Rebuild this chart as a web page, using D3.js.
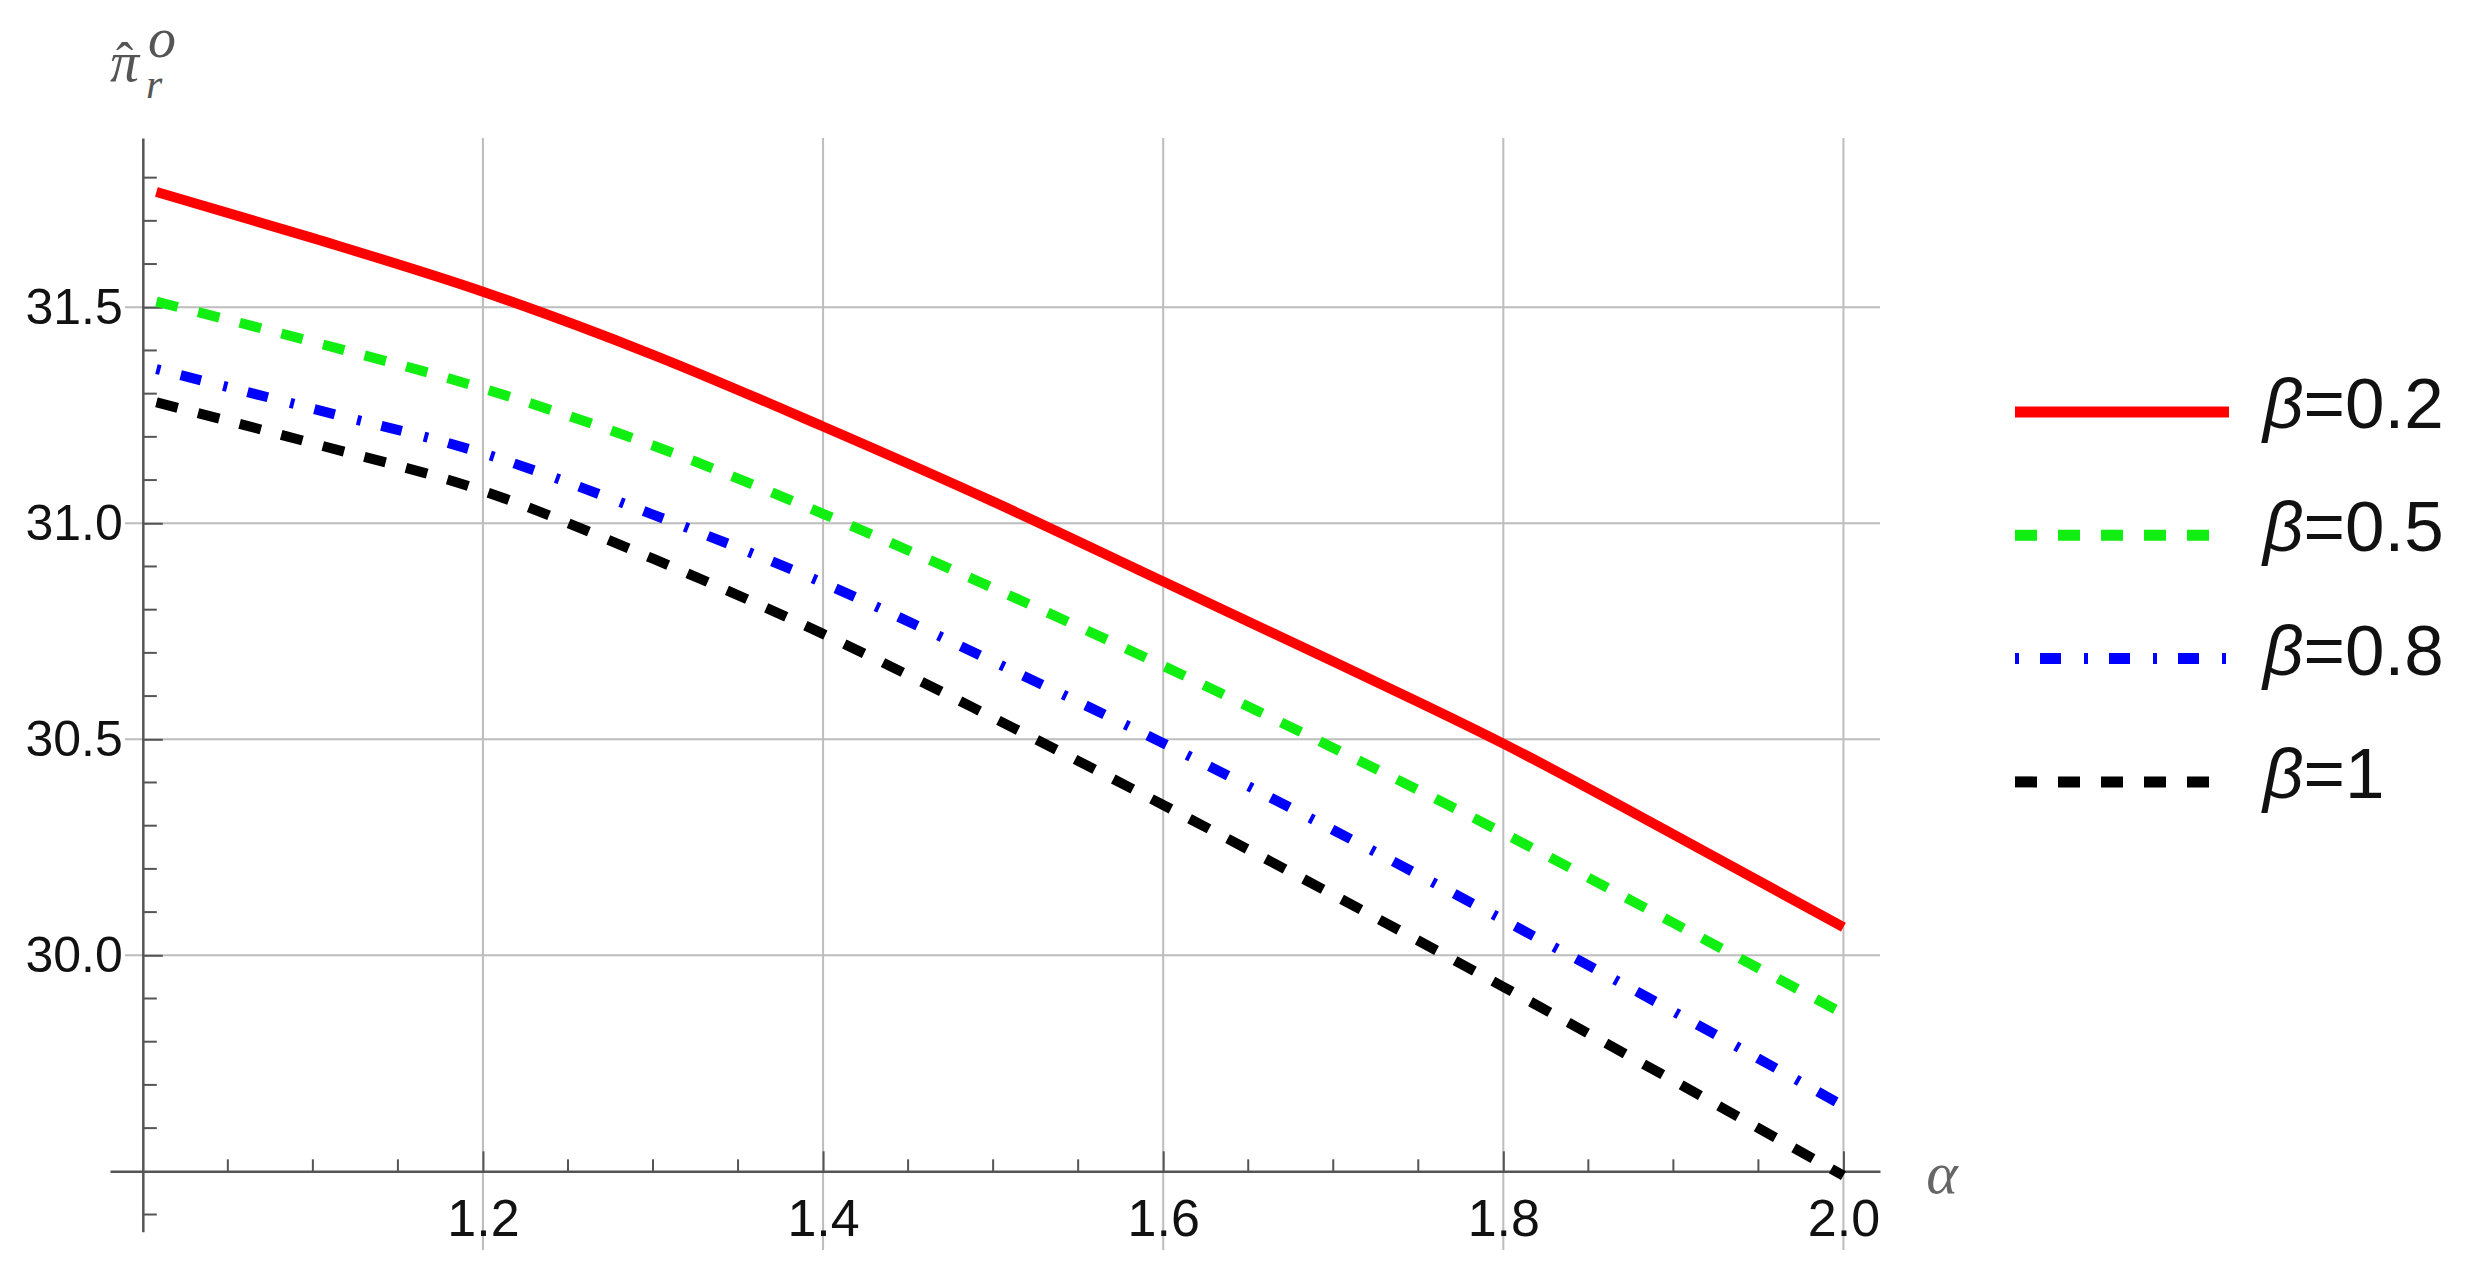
<!DOCTYPE html>
<html>
<head>
<meta charset="utf-8">
<script src="https://cdn.jsdelivr.net/npm/d3@7"></script>
<style>
  html, body { margin: 0; padding: 0; background: #ffffff; }
  svg { display: block; }
</style>
</head>
<body>
<script>
// ---------- data ----------
const alpha   = [1.008, 1.1, 1.2, 1.3, 1.4, 1.5, 1.6, 1.7, 1.8, 1.9, 2.0];
const beta02  = [31.767, 31.66, 31.536, 31.39, 31.224, 31.05, 30.865, 30.68, 30.49, 30.28, 30.065];
const beta05  = [31.513, 31.42, 31.312, 31.18, 31.022, 30.85, 30.67, 30.48, 30.283, 30.075, 29.865];
const beta08  = [31.357, 31.265, 31.162, 31.02, 30.862, 30.68, 30.491, 30.29, 30.082, 29.87, 29.651];
const beta1   = [31.28, 31.185, 31.075, 30.918, 30.744, 30.55, 30.348, 30.14, 29.927, 29.71, 29.49];
const seriesNames = ["β=0.2", "β=0.5", "β=0.8", "β=1"];
const xTickLabels = ["1.2", "1.4", "1.6", "1.8", "2.0"];
const yTickLabels = ["30.0", "30.5", "31.0", "31.5"];

// ---------- layout ----------
const W = 2474, H = 1268;
const svg = d3.select("body").append("svg").attr("width", W).attr("height", H);
svg.append("rect").attr("width", W).attr("height", H).attr("fill", "#fff");

const x = d3.scaleLinear().domain([0.9807, 2.0215]).range([110, 1880]);
const y = d3.scaleLinear().domain([29.36, 31.892]).range([1231.8, 137.9]);
const xOrigin = 1.0, yOrigin = 29.5;

const series = [
  {name: seriesNames[0], vals: beta02, color: "#ff0000", dash: null},
  {name: seriesNames[1], vals: beta05, color: "#11ee11", dash: "22,21"},
  {name: seriesNames[2], vals: beta08, color: "#0000ff", dash: "4,21,21,23"},
  {name: seriesNames[3], vals: beta1,  color: "#000000", dash: "22,21"}
];

// ---------- grid ----------
const grid = svg.append("g");
const xMajor = xTickLabels.map(Number);
const yMajor = yTickLabels.map(Number);
grid.selectAll("line.v").data(xMajor).join("line")
  .attr("x1", d => x(d)).attr("x2", d => x(d))
  .attr("y1", y(31.892)).attr("y2", 1250)
  .attr("stroke", "#bdbdbd").attr("stroke-width", 2);
grid.selectAll("line.h").data(yMajor).join("line")
  .attr("x1", 125).attr("x2", x(2.0215))
  .attr("y1", d => y(d)).attr("y2", d => y(d))
  .attr("stroke", "#bdbdbd").attr("stroke-width", 2);

// ---------- axes ----------
const axisColor = "#555";
// x axis
const xMinor = d3.range(1.05, 2.001, 0.05).map(v => +v.toFixed(2)).filter(v => !xMajor.some(m => Math.abs(m - v) < 1e-6));
const xAxisG = svg.append("g").attr("transform", `translate(0,${y(yOrigin)})`);
xAxisG.call(d3.axisBottom(x).tickValues(xMajor).tickSizeInner(-20).tickSizeOuter(0).tickPadding(28)
  .tickFormat((d, i) => xTickLabels[i]));
xAxisG.select(".domain").attr("stroke", axisColor).attr("stroke-width", 2.5);
xAxisG.selectAll(".tick line").attr("stroke", axisColor).attr("stroke-width", 2);
xAxisG.selectAll(".tick text").attr("fill", "#111").attr("font-family", "Liberation Sans, Arial, sans-serif").attr("font-size", 52);
xAxisG.selectAll("line.minor").data(xMinor).join("line").attr("class", "minor")
  .attr("x1", d => x(d)).attr("x2", d => x(d)).attr("y1", 0).attr("y2", -12)
  .attr("stroke", axisColor).attr("stroke-width", 2);

// y axis
const yMinor = d3.range(29.4, 31.85, 0.1).map(v => +v.toFixed(1))
  .filter(v => Math.abs(v - yOrigin) > 1e-6 && !yMajor.some(m => Math.abs(m - v) < 1e-6));
const yAxisG = svg.append("g").attr("transform", `translate(${x(xOrigin)},0)`);
yAxisG.call(d3.axisLeft(y).tickValues(yMajor).tickSizeInner(-20).tickSizeOuter(0).tickPadding(20)
  .tickFormat((d, i) => yTickLabels[i]));
yAxisG.select(".domain").attr("stroke", axisColor).attr("stroke-width", 2.5);
yAxisG.selectAll(".tick line").attr("stroke", axisColor).attr("stroke-width", 2);
yAxisG.selectAll(".tick text").attr("fill", "#111").attr("font-family", "Liberation Sans, Arial, sans-serif").attr("font-size", 50);
yAxisG.selectAll("line.minor").data(yMinor).join("line").attr("class", "minor")
  .attr("x1", 0).attr("x2", 14).attr("y1", d => y(d)).attr("y2", d => y(d))
  .attr("stroke", axisColor).attr("stroke-width", 2);

// axis labels
svg.append("text").attr("x", 1942).attr("y", 1193)
  .attr("text-anchor", "middle").attr("font-family", "Liberation Serif, Times New Roman, serif")
  .attr("font-style", "italic").attr("font-size", 60).attr("fill", "#666").text("α");

// y-axis label: π with hat, subscript r, superscript o (stacked as in the reference)
const yl = svg.append("text").attr("font-family", "Liberation Serif, Times New Roman, serif")
  .attr("font-style", "italic").attr("fill", "#555");
yl.append("tspan").attr("x", 110).attr("y", 81).attr("font-size", 58).text("π");
yl.append("tspan").attr("x", 116).attr("y", 79).attr("font-size", 52).attr("font-style", "normal").text("ˆ");
yl.append("tspan").attr("x", 146).attr("y", 98).attr("font-size", 42).text("r");
yl.append("tspan").attr("x", 148).attr("y", 57).attr("font-size", 56).text("o");

// ---------- lines ----------
const line = d3.line().x(d => x(d[0])).y(d => y(d[1])).curve(d3.curveMonotoneX);
const plotG = svg.append("g");
series.forEach(s => {
  plotG.append("path")
    .datum(alpha.map((a, i) => [a, s.vals[i]]))
    .attr("d", line)
    .attr("fill", "none")
    .attr("stroke", s.color)
    .attr("stroke-width", 10)
    .attr("stroke-dasharray", s.dash);
});

// ---------- legend ----------
const lg = svg.append("g");
series.forEach((s, i) => {
  const ly = 412 + i * 123.3;
  lg.append("line").attr("x1", 2015).attr("x2", 2229).attr("y1", ly).attr("y2", ly)
    .attr("stroke", s.color).attr("stroke-width", 11).attr("stroke-dasharray", s.dash);
  const t = lg.append("text").attr("x", 2263).attr("y", ly + 16)
    .attr("font-family", "Liberation Sans, Arial, sans-serif").attr("font-size", 71).attr("fill", "#111");
  t.append("tspan").attr("font-style", "italic").text(s.name.charAt(0));
  t.append("tspan").text(s.name.slice(1));
});
</script>
</body>
</html>
